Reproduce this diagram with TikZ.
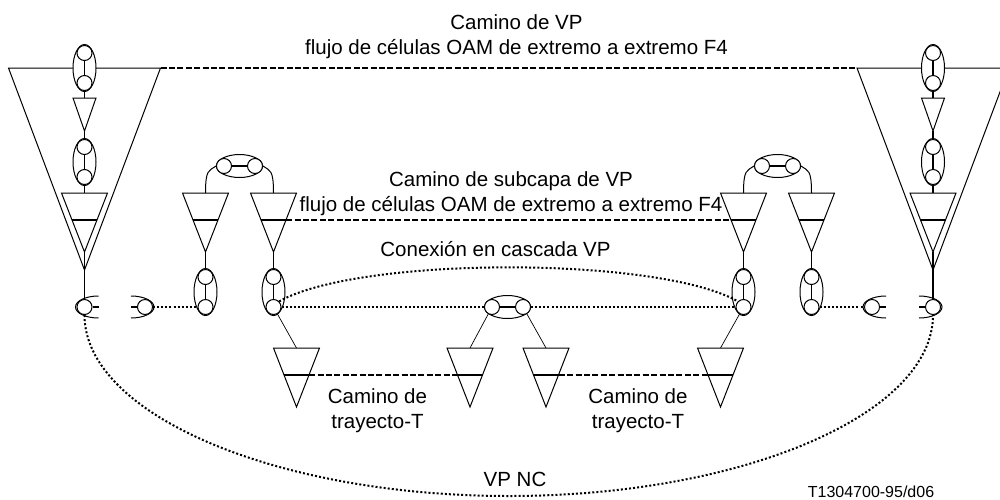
\documentclass[tikz,border=0pt]{standalone}
\usepackage{fontspec}
\setmainfont{Liberation Sans}
\usepackage{xcolor}
\usetikzlibrary{shapes.geometric}

\begin{document}
\begin{tikzpicture}[ x = 1pt
                     , y = -1pt
                     , line width = 1pt
                     , lbl/.style = { align = center
                                    , font = \fontsize{20.5}{25}\selectfont
                                    , inner sep = 0pt }
                     , port/.style = { circle
                                     , draw = black
                                     , fill = white
                                     , inner sep = 0pt
                                     , minimum size = 15pt }
                     , vring/.style = { ellipse
                                      , draw = black
                                      , fill = white
                                      , inner sep = 0pt
                                      , minimum width = 23pt
                                      , minimum height = 47pt }
                     , hring/.style = { vring
                                      , minimum width = 46pt
                                      , minimum height = 23pt }
                     , stem/.style = { line width = 1.6pt }
                     , thin link/.style = { line width = 0.7pt }
                     , dashln/.style = { line width = 2pt
                                       , dash pattern = on 6pt off 2.4pt }
                     , dotln/.style = { line width = 2pt
                                      , dash pattern = on 2pt off 2.1pt }
                     , pairv/.pic = {
                         \node (-ring) [vring] at (0,0) {};
                         \node (-a) [port] at (0,-15) {};
                         \node (-b) [port] at (0,15) {};
                         \draw[stem] (-a) -- (-b);
                       }
                     , pairh/.pic = {
                         \node (-ring) [hring] at (0,0) {};
                         \node (-a) [port] at (-15.5,0) {};
                         \node (-b) [port] at (15.5,0) {};
                         \draw[stem] (-a) -- (-b);
                       }
                     , tri/.pic = {
                         \coordinate (-top) at (0,0);
                         \coordinate (-apex) at (0,59);
                         \coordinate (-ml) at (-12.7,27);
                         \coordinate (-mr) at (12.7,27);
                         \draw (-23,0) -- (23,0) -- (-apex) -- cycle;
                         \draw[line width = 1.6pt] (-ml) -- (-mr);
                       }
                     , minitri/.pic = {
                         \coordinate (-top) at (0,0);
                         \coordinate (-apex) at (0,33);
                         \draw (-11.5,0) -- (11.5,0) -- (-apex) -- cycle;
                       }
                     , bigtri/.pic = {
                         \coordinate (-nw) at (-76,0);
                         \coordinate (-ne) at (76,0);
                         \coordinate (-apex) at (0,202);
                         \draw (-nw) -- (-ne) -- (-apex) -- cycle;
                       }
                     , cup/.pic = {
                         \coordinate (-end) at (14,0);
                         \draw (14,-11) .. controls (1,-11) and (-9,-6) .. (-9,0)
                               .. controls (-9,6) and (1,11) .. (14,11);
                         \node (-c) [port] at (0,0) {};
                         \draw[stem] (-c) -- (-end);
                       }
                     ]

  \useasboundingbox (0,0) rectangle (1000,499);

  % left end
  \pic (bl) at (84.5,68) {bigtri};
  \pic (ul) at (84.5,68) {pairv};
  \pic (ml) at (84.5,98) {minitri};
  \pic (vl) at (84.5,162) {pairv};
  \pic (tl) at (84.5,193) {tri};
  \pic (cl) at (84.5,307) {cup};
  \pic (dl) [xscale=-1] at (145,307) {cup};

  % right end
  \pic (br) at (933,68) {bigtri};
  \pic (ur) at (933,68) {pairv};
  \pic (mr) at (933,98) {minitri};
  \pic (vr) at (933,162) {pairv};
  \pic (tr) at (933,193) {tri};
  \pic (cr) [xscale=-1] at (933,307) {cup};
  \pic (dr) at (872,307) {cup};

  % subcapa
  \pic (sa) at (205.5,193) {tri};
  \pic (sb) at (273.5,193) {tri};
  \pic (sc) at (743.5,193) {tri};
  \pic (sd) at (811.5,193) {tri};
  \pic (ha) at (239.5,166) {pairh};
  \pic (hb) at (777.5,166) {pairh};
  \pic (pa) at (205.5,292) {pairv};
  \pic (pb) at (273.5,292) {pairv};
  \pic (pc) at (743.5,292) {pairv};
  \pic (pd) at (811.5,292) {pairv};

  % trayecto
  \pic (ta) at (296.5,348) {tri};
  \pic (tb) at (470,348) {tri};
  \pic (tc) at (546,348) {tri};
  \pic (td) at (720.5,348) {tri};
  \pic (hc) at (507.5,307) {pairh};

  \coordinate (ncbot) at (509,496);

  \draw[stem] (ul-b) -- (ml-top);
  \draw[stem] (ml-apex) -- (vl-a);
  \draw[stem] (vl-b) -- (tl-top);
  \draw[stem] (tl-apex) -- (cl-c);
  \draw[stem] (ur-b) -- (mr-top);
  \draw[stem] (mr-apex) -- (vr-a);
  \draw[stem] (vr-b) -- (tr-top);
  \draw[stem] (tr-apex) -- (cr-c);
  \draw[stem] (sa-apex) -- (pa-a);
  \draw[stem] (sb-apex) -- (pb-a);
  \draw[stem] (sc-apex) -- (pc-a);
  \draw[stem] (sd-apex) -- (pd-a);

  \draw (sa-top) .. controls +(0,-24) and +(-7,5) .. (ha-a.west);
  \draw (sb-top) .. controls +(0,-24) and +(7,5) .. (ha-b.east);
  \draw (sc-top) .. controls +(0,-24) and +(-7,5) .. (hb-a.west);
  \draw (sd-top) .. controls +(0,-24) and +(7,5) .. (hb-b.east);

  \draw[thin link] (pb-b) -- (ta-top);
  \draw[thin link] (hc-a) -- (tb-top);
  \draw[thin link] (hc-b) -- (tc-top);
  \draw[thin link] (pc-b) -- (td-top);

  \draw[dashln] (bl-ne) -- (br-nw);
  \draw[dashln] (sb-mr) -- (sc-ml);
  \draw[dashln] (ta-mr) -- (tb-ml);
  \draw[dashln] (tc-mr) -- (td-ml);

  \draw[dotln] (dl-c) -- (pa-b);
  \draw[dotln] (pd-b) -- (dr-c);
  \draw[dotln] (pb-b) -- (hc-a);
  \draw[dotln] (hc-b) -- (pc-b);
  \draw[dotln] (pb-b.north east) .. controls (360,256) and (658,256) .. (pc-b.north west);
  \draw[dotln] (cl-c.south) .. controls +(0,99) and +(-234,0) .. (ncbot)
               .. controls +(234,0) and +(0,99) .. (cr-c.south);

  \node (vptitle) [lbl] at (516.5,36.5) {Camino de VP\\flujo de células OAM de extremo a extremo F4};
  \node (subtitle) [lbl] at (511,193.2) {Camino de subcapa de VP\\flujo de células OAM de extremo a extremo F4};
  \node (cascada) [lbl, anchor = base] at (495.5,256) {Conexión en cascada VP};
  \node (trayl) [lbl] at (377.5,410.6) {Camino de\\trayecto-T};
  \node (trayr) [lbl] at (638,410.6) {Camino de\\trayecto-T};
  \node (vpnc) [lbl, anchor = base] at (515,486) {VP NC};
  \node (ref) [lbl, anchor = base, font = \fontsize{16}{18}\selectfont] at (871,497.5) {T1304700-95/d06};

\end{tikzpicture}
\end{document}
